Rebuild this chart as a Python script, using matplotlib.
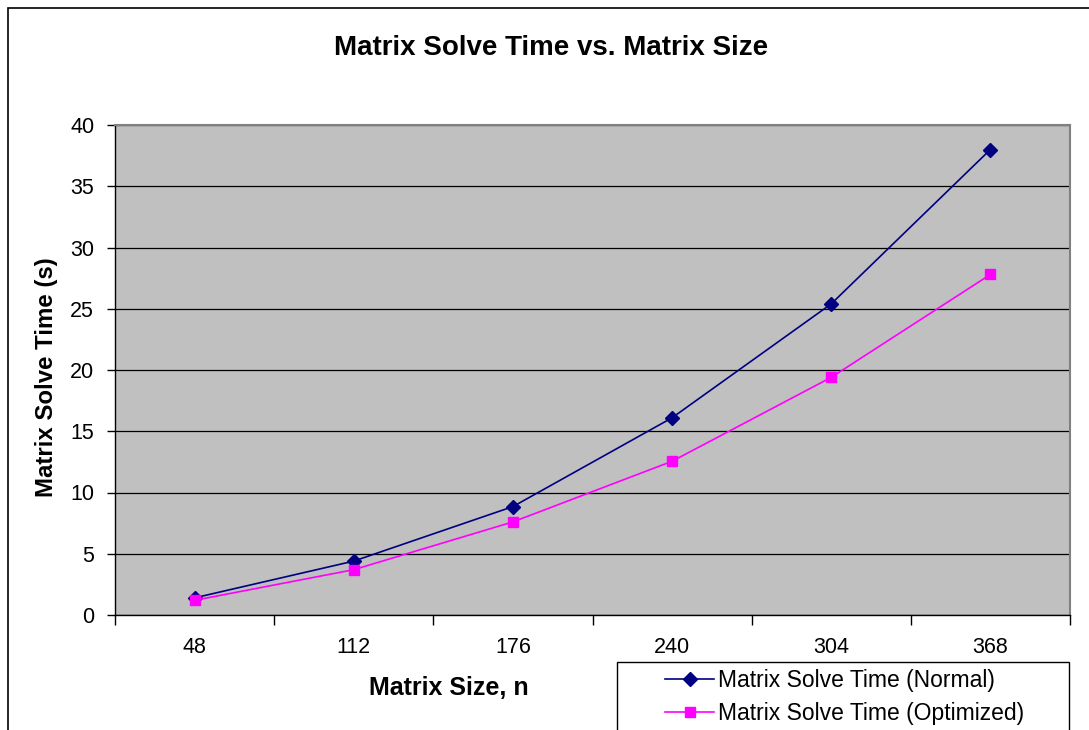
import matplotlib
matplotlib.use("Agg")
import matplotlib.pyplot as plt
from matplotlib.patches import Rectangle
from matplotlib.ticker import FixedLocator, NullFormatter, FixedFormatter

plt.rcParams['font.family'] = ['Liberation Sans', 'DejaVu Sans']

# Data
matrix_sizes = ["48", "112", "176", "240", "304", "368"]
time_normal = [1.4, 4.4, 8.85, 16.1, 25.4, 38.0]
time_optimized = [1.2, 3.7, 7.6, 12.55, 19.4, 27.8]

W, H = 1089, 730
fig = plt.figure(figsize=(W / 100, H / 100), dpi=100)
fig.patch.set_facecolor("white")

# Outer chart border (extends past right/bottom edges)
fig.add_artist(Rectangle((8 / W, -0.1), 1.2, 1 - 8 / H + 0.1,
                         transform=fig.transFigure, fill=False,
                         edgecolor="black", linewidth=1.2))

ax = fig.add_axes([115 / W, 1 - 615 / H, (1070 - 115) / W, (615 - 125) / H])
ax.set_facecolor("#C0C0C0")

x = list(range(len(matrix_sizes)))
ln1, = ax.plot(x, time_normal, color="#000080", marker="D", markersize=7,
               linewidth=1.2, label="Matrix Solve Time (Normal)", zorder=3)
ln2, = ax.plot(x, time_optimized, color="#FF00FF", marker="s", markersize=7,
               linewidth=1.2, label="Matrix Solve Time (Optimized)", zorder=3)

ax.set_xlim(-0.5, len(matrix_sizes) - 0.5)
ax.set_ylim(0, 40)

# Category axis: ticks between categories, labels centred on categories
ax.xaxis.set_major_locator(FixedLocator([i - 0.5 for i in range(len(matrix_sizes) + 1)]))
ax.xaxis.set_major_formatter(NullFormatter())
ax.xaxis.set_minor_locator(FixedLocator(x))
ax.xaxis.set_minor_formatter(FixedFormatter(matrix_sizes))
ax.tick_params(axis="x", which="major", direction="out", length=7, width=1, color="black")
ax.tick_params(axis="x", which="minor", length=0, pad=16, labelsize=15.5)

ax.set_yticks(range(0, 41, 5))
ax.tick_params(axis="y", direction="out", length=6, width=1, pad=9, labelsize=15.5)

ax.grid(axis="y", color="black", linewidth=0.9)
ax.set_axisbelow(True)

for side in ("top", "right"):
    ax.spines[side].set_color("#808080")
    ax.spines[side].set_linewidth(1.5)
for side in ("left", "bottom"):
    ax.spines[side].set_color("black")
    ax.spines[side].set_linewidth(1)

fig.text(551 / W, 1 - 48 / H, "Matrix Solve Time vs. Matrix Size",
         ha="center", va="center", fontsize=20, fontweight="bold")
fig.text(449 / W, 1 - 688 / H, "Matrix Size, n",
         ha="center", va="center", fontsize=18, fontweight="bold")
fig.text(47 / W, 1 - 377 / H, "Matrix Solve Time (s)", rotation=90,
         ha="center", va="center", fontsize=17.3, fontweight="bold")

# Legend box (extends past the bottom edge)
fig.add_artist(Rectangle((617 / W, -0.1), (1069 - 617) / W, 0.1 + 1 - 662 / H,
                         transform=fig.transFigure, facecolor="white",
                         edgecolor="black", linewidth=1, zorder=4))
leg = fig.legend(handles=[ln1, ln2], loc="upper left",
                 bbox_to_anchor=(656 / W, 1 - 660 / H), frameon=False,
                 fontsize=16.5, handlelength=2.14, handletextpad=0.17,
                 labelspacing=0.44, borderaxespad=0)
leg.set_zorder(5)

fig.savefig("out.png", dpi=100)
